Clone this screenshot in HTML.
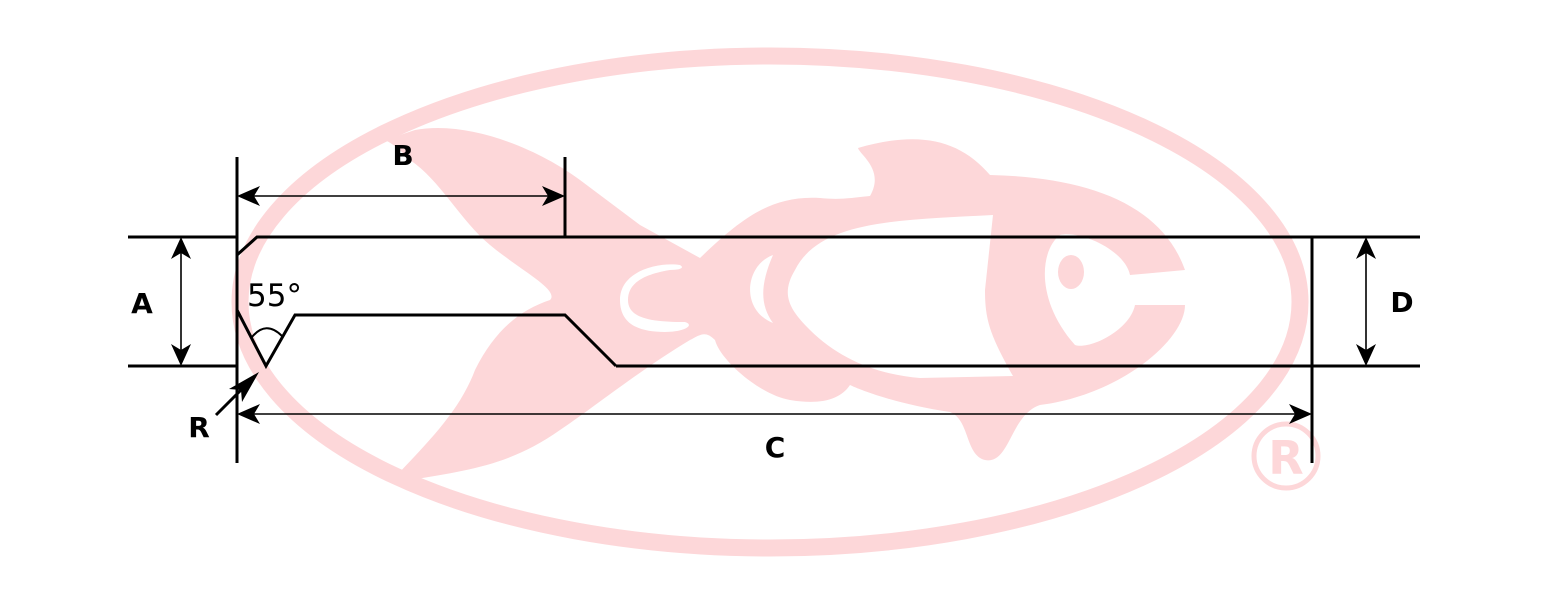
<!DOCTYPE html>
<html><head><style>body{margin:0;background:#fff}svg{display:block}</style></head><body>
<svg width="1550" height="606" viewBox="0 0 1550 606" xmlns="http://www.w3.org/2000/svg" font-family="'DejaVu Sans','Liberation Sans',sans-serif">
<g fill="#fdd7d9" stroke="none">
<ellipse cx="770" cy="302" rx="530" ry="246" fill="none" stroke="#fdd7d9" stroke-width="17"/>
<path d="M415,130 C470,120 540,150 580,180 L640,225 L700,258 C740,220 770,195 820,198 C840,200 850,198 870,196 C885,170 860,155 858,148 C920,130 960,140 990,175 C1080,177 1160,200 1185,270 L1130,275 C1125,250 1080,230 1060,235 C1040,250 1035,300 1075,345 C1090,350 1130,330 1135,305 L1185,305 C1185,340 1120,395 1040,405 C1010,415 1010,465 985,460 C965,455 970,420 950,412 C900,405 860,390 850,385 C840,400 820,405 790,400 C760,395 720,360 715,340 C705,330 700,335 690,340 C640,370 590,410 560,430 C510,465 470,470 410,480 C430,500 570,530 660,543 L930,543 C880,552 700,550 620,546 C500,530 430,500 398,474 C430,440 460,410 475,370 C495,330 520,310 550,300 C560,290 520,270 490,245 C460,220 440,180 410,160 C400,150 395,145 385,140 Z"/>
<path d="M620,300 C620,270 660,262 680,265 C685,268 680,270 670,270 C640,275 628,285 628,300 C628,318 650,322 685,322 C695,325 685,332 665,332 C640,332 620,325 620,300 Z" fill="#fff"/>
<path d="M773,255 C745,265 740,310 773,323 C760,305 760,285 773,255 Z" fill="#fff"/>
<path d="M993,215 C900,220 820,220 795,270 C780,295 790,310 810,330 C840,360 880,375 920,378 L1013,376 C990,335 985,320 985,290 Z" fill="#fff"/>
<ellipse cx="1071" cy="272" rx="13" ry="17" fill="#fdd7d9"/>
<circle cx="1286" cy="456" r="32" fill="none" stroke="#fdd7d9" stroke-width="5"/>
<text x="1286" y="474" font-size="46" font-weight="bold" text-anchor="middle" fill="#fdd7d9">R</text>
</g>
<g stroke="#000" stroke-width="3" fill="none">
<path d="M128,237 H237 M237,255 L257,237 H1420"/>
<path d="M128,366 H237 M616,366 H1420"/>
<path d="M237,310 L266,366 L295,315 H565 L616,366"/>
<path d="M237,157 V463 M565,157 V237 M1312,237 V463"/>
<path d="M252,337 Q266,320 282,336" stroke-width="2"/>
<path d="M216,415 L245,386"/>
</g>
<g stroke="#000" stroke-width="1.6">
<line x1="240" y1="196" x2="562" y2="196"/>
<line x1="240" y1="414" x2="1309" y2="414"/>
<line x1="181" y1="240" x2="181" y2="363"/>
<line x1="1366" y1="240" x2="1366" y2="363"/>
</g>
<g fill="#000">
<polygon points="237,196 260,186 254,196 260,206"/>
<polygon points="565,196 542,186 548,196 542,206"/>
<polygon points="237,414 260,404 254,414 260,424"/>
<polygon points="1312,414 1289,404 1295,414 1289,424"/>
<polygon points="181,237 171,259 181,253 191,259"/>
<polygon points="181,366 171,344 181,350 191,344"/>
<polygon points="1366,237 1356,259 1366,253 1376,259"/>
<polygon points="1366,366 1356,344 1366,350 1376,344"/>
<polygon points="259,372 229,389 241,390 242,402"/>
</g>
<g font-weight="bold" font-size="28" fill="#000" text-anchor="middle">
<text x="403" y="165">B</text>
<text x="142" y="313">A</text>
<text x="1402" y="312">D</text>
<text x="199" y="437">R</text>
<text x="775" y="457">C</text>
</g>
<text x="247" y="306" font-size="31" fill="#000">55°</text>
</svg>
</body></html>
